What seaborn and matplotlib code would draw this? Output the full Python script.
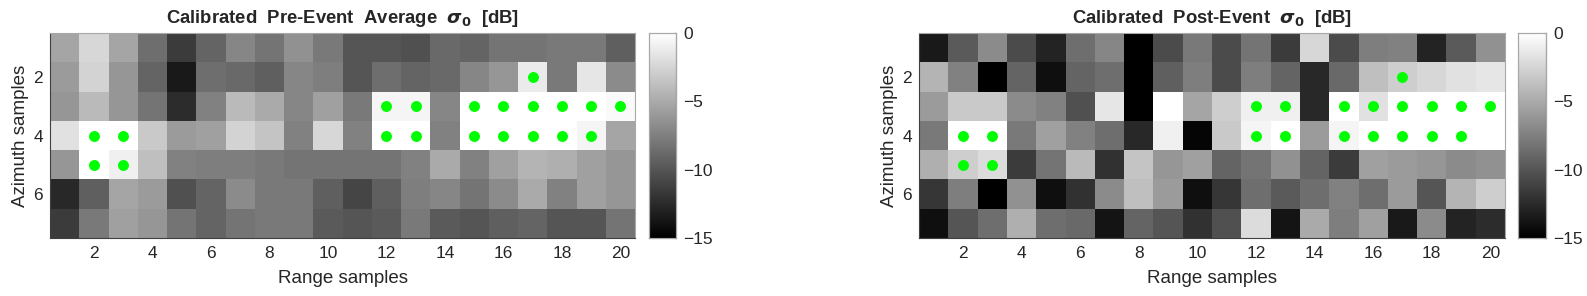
import matplotlib
matplotlib.use("Agg")
import matplotlib.pyplot as plt
import numpy as np
import seaborn as sns

pre_event_db = [
    [-5.3,-2.4,-5.3,-8.5,-11.5,-9.1,-7.1,-8.2,-6.5,-7.9,-10,-10,-10.3,-8.8,-9.1,-8.2,-8.2,-7.9,-7.9,-9.4],
    [-5.9,-2.6,-6.2,-9.1,-13.5,-8.5,-8.8,-9.4,-7.1,-7.6,-10,-8.5,-9.1,-8.8,-7.1,-6.2,-1.2,-7.9,-1.5,-6.8],
    [-6.2,-4.1,-6.2,-8.2,-12.4,-7.4,-4.1,-5,-7.1,-5.6,-7.9,-0.6,-0.6,-7.1,0,0,0,0,0,-0.3],
    [-1.8,0,0,-3.2,-5.9,-5.6,-2.6,-3.5,-7.4,-2.4,-7.4,0,0,-7.4,0,0,0,0,-0.6,-5.3],
    [-6.2,0,-0.9,-3.8,-7.4,-7.6,-7.6,-7.9,-8.2,-8.2,-8.2,-8.2,-7.4,-5,-7.4,-5.6,-4.4,-4.7,-5.6,-6.2],
    [-12.6,-9.4,-5.3,-5.9,-10.3,-9.1,-6.8,-7.9,-7.9,-9.4,-10.9,-9.4,-7.6,-7.1,-8.2,-6.8,-5,-7.4,-5.6,-6.2],
    [-11.5,-7.9,-5.6,-6.2,-8.2,-9.1,-8.2,-7.9,-7.9,-9.7,-10,-9.7,-7.9,-9.7,-10,-9.4,-9.1,-10,-10,-8.2],
]
post_event_db = [
    [-13.5,-9.7,-6.8,-10.6,-12.9,-8.5,-7.1,-15,-10.6,-7.9,-10.6,-8.2,-11.5,-2.4,-10.6,-7.6,-7.4,-12.9,-9.7,-6.5],
    [-4.4,-7.4,-15,-9.1,-14.1,-9.1,-8.5,-15,-9.4,-7.6,-10.6,-7.6,-9.1,-12.6,-8.8,-3.8,-2.9,-2.4,-1.8,-1.5],
    [-5.9,-3.2,-3.2,-6.8,-7.4,-10.3,-1.5,-15,0,-5.3,-2.9,-0.9,-0.9,-12.6,0,-1.8,0,0,0,0],
    [-7.9,0,0,-7.9,-5.6,-7.4,-8.5,-12.6,-0.9,-14.7,-3.2,-0.6,0,-5.9,-0.6,0,0,0,0,0],
    [-4.7,-2.9,-2.1,-11.5,-8.2,-4.1,-12.1,-3.5,-6.2,-5.6,-9.1,-8.2,-6.5,-9.1,-11.5,-5.6,-5.9,-6.2,-6.8,-6.5],
    [-11.8,-7.6,-15,-6.5,-14.1,-12.1,-6.8,-3.8,-5.9,-14.1,-11.8,-8.5,-9.7,-8.5,-7.4,-8.5,-5.9,-10,-4.4,-2.9],
    [-14.1,-10,-8.5,-4.7,-8.5,-8.8,-13.8,-9.1,-10,-12.1,-10.3,-2.1,-13.8,-5,-7.6,-5.6,-13.5,-6.8,-12.9,-12.4],
]
target_range = [17, 12, 13, 15, 16, 17, 18, 19, 20, 2, 3, 12, 13, 15, 16, 17, 18, 19, 2, 3]
target_azimuth = [2, 3, 3, 3, 3, 3, 3, 3, 3, 4, 4, 4, 4, 4, 4, 4, 4, 4, 5, 5]
range_ticks = [2, 4, 6, 8, 10, 12, 14, 16, 18, 20]
azimuth_ticks = [2, 4, 6]
cbar_ticks = [0, -5, -10, -15]
titles = [r"Calibrated  Pre-Event  Average  $\mathbfit{\sigma}_{\mathbf{0}}$  [dB]",
          r"Calibrated  Post-Event  $\mathbfit{\sigma}_{\mathbf{0}}$  [dB]"]

sns.set_theme(style="white")
plt.rcParams["font.family"] = ["Liberation Sans", "DejaVu Sans"]
plt.rcParams["mathtext.fontset"] = "dejavusans"

W, H = 1587, 296
def box(x0, x1, y0=33, y1=238):
    return [x0 / W, 1 - y1 / H, (x1 - x0) / W, (y1 - y0) / H]

fig = plt.figure(figsize=(W / 100, H / 100), dpi=100)
panels = [(50, 635, 648.5, 676), (919, 1505, 1518, 1546)]
dark = "#404040"
light = "#a8a8a8"
for data, title, (ax0, ax1, c0, c1) in zip([pre_event_db, post_event_db], titles, panels):
    ax = fig.add_axes(box(ax0, ax1))
    cax = fig.add_axes(box(c0, c1))
    sns.heatmap(np.array(data), ax=ax, cbar_ax=cax, cmap="gray", vmin=-15, vmax=0,
                xticklabels=False, yticklabels=False, square=False,
                cbar_kws={"ticks": cbar_ticks})
    ax.scatter(np.array(target_range) - 0.5, np.array(target_azimuth) - 0.5,
               s=62, color="#00ff00", linewidths=0, zorder=3)
    ax.set_xticks(np.array(range_ticks) - 0.5, labels=range_ticks)
    ax.set_yticks(np.array(azimuth_ticks) - 0.5, labels=azimuth_ticks, rotation=0)
    ax.tick_params(axis="x", direction="in", length=4.5, width=0.8, color="#444444",
                   labelsize=12.5, labelcolor="#262626", pad=6, bottom=True, top=True)
    ax.tick_params(axis="y", direction="in", length=4.5, width=0.8, color="#444444",
                   labelsize=12.5, labelcolor="#262626", pad=5, left=True, right=True)
    ax.set_xlabel("Range samples", fontsize=13.5, color="#262626", labelpad=6)
    ax.set_ylabel("Azimuth samples", fontsize=13.5, color="#262626", labelpad=3)
    ax.set_title(title, fontsize=13.3, fontweight="bold", color="#262626", pad=7)
    for name, s in ax.spines.items():
        s.set_visible(True)
        s.set_color(dark if name in ("left", "bottom") else light)
        s.set_linewidth(0.8)
    cax.yaxis.set_ticks_position("right")
    cax.tick_params(axis="y", direction="in", length=2, width=0.8, color="#444444",
                    labelsize=12.5, labelcolor="#262626", pad=5, right=True)
    for name, s in cax.spines.items():
        s.set_visible(True)
        s.set_color(dark if name in ("right", "bottom") else light)
        s.set_linewidth(0.8)

fig.savefig("out.png", dpi=100)
